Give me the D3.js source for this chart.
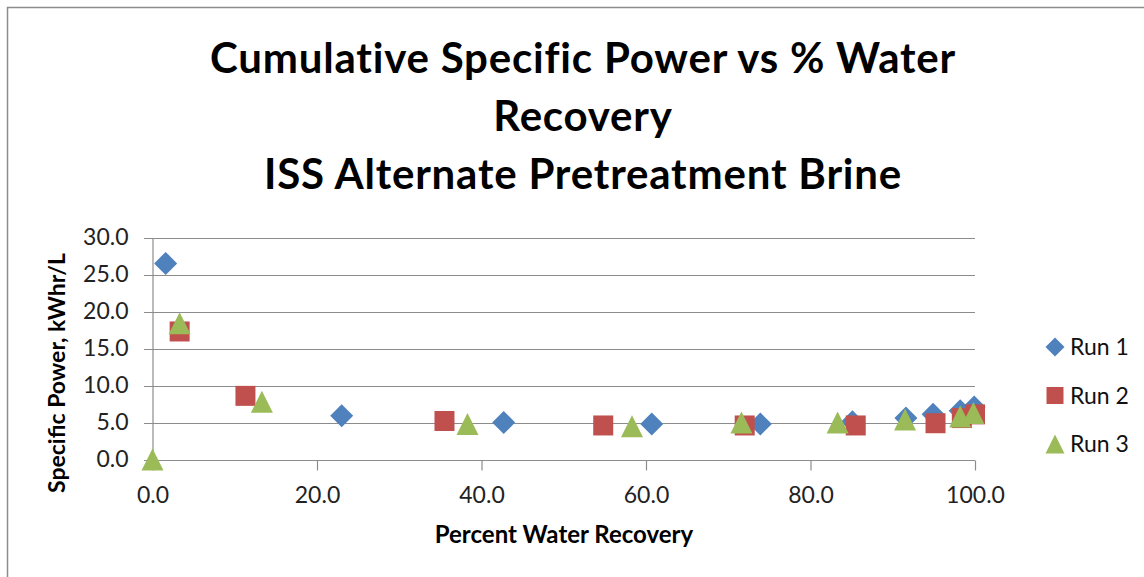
<!DOCTYPE html>
<html>
<head>
<meta charset="utf-8">
<script src="https://cdn.jsdelivr.net/npm/d3@7"></script>
<style>
  html, body { margin: 0; padding: 0; background: #fff; }
  svg { display: block; font-family: Lato, "Open Sans", sans-serif; }
</style>
</head>
<body>
<svg id="chart" width="1144" height="577"></svg>
<script>
// series values
const run1X = [1.6, 23.0, 42.7, 60.7, 73.9, 85.1, 91.6, 94.9, 98.2, 99.9];
const run1Y = [26.5, 5.9, 5.0, 4.8, 4.8, 5.1, 5.6, 6.1, 6.6, 7.1];
const run2X = [3.3, 11.3, 35.5, 54.8, 72.0, 85.5, 95.2, 98.4, 100.0];
const run2Y = [17.3, 8.6, 5.2, 4.6, 4.6, 4.6, 4.9, 5.6, 6.1];
const run3X = [0.0, 3.3, 13.3, 38.3, 58.3, 71.6, 83.3, 91.5, 98.2, 99.8];
const run3Y = [0.0, 18.4, 7.8, 4.8, 4.5, 5.0, 5.0, 5.4, 5.8, 6.3];

const seriesNames = ['Run 1', 'Run 2', 'Run 3'];
const xTicks = [0, 20, 40, 60, 80, 100];
const yTicks = [0, 5, 10, 15, 20, 25, 30];
const titleLines = ['Cumulative Specific Power vs % Water', 'Recovery', 'ISS Alternate Pretreatment Brine'];

const colors = ['#4F81BD', '#C0504D', '#9BBB59'];

// excel-like markers: diamond (square on its point), square, triangle
const diamond = {
  draw(ctx, size) {
    const r = Math.sqrt(size) / 2;
    ctx.moveTo(0, -r); ctx.lineTo(r, 0); ctx.lineTo(0, r); ctx.lineTo(-r, 0); ctx.closePath();
  }
};
const triangle = {
  draw(ctx, size) {
    const r = Math.sqrt(size) / 2;
    ctx.moveTo(0, -r); ctx.lineTo(r, r); ctx.lineTo(-r, r); ctx.closePath();
  }
};
const shapes = [
  d3.symbol(diamond, 23 * 23),
  d3.symbol(d3.symbolSquare, 20 * 20),
  d3.symbol(triangle, 22 * 22)
];

const series = [
  run1X.map((x, i) => ({ x, y: run1Y[i] })),
  run2X.map((x, i) => ({ x, y: run2Y[i] })),
  run3X.map((x, i) => ({ x, y: run3Y[i] }))
];

const svg = d3.select('#chart');

// outer chart border
svg.append('rect')
  .attr('x', 7.5).attr('y', 7.5)
  .attr('width', 1200).attr('height', 620)
  .attr('fill', '#fff')
  .attr('stroke', '#8c8c8c').attr('stroke-width', 1.5);

const x = d3.scaleLinear().domain([0, 100]).range([152.5, 975]);
const y = d3.scaleLinear().domain([0, 30]).range([459.5, 237.5]);

// title
svg.append('g')
  .selectAll('text')
  .data(titleLines)
  .join('text')
  .attr('x', 583)
  .attr('y', (d, i) => 73 + i * 58)
  .attr('text-anchor', 'middle')
  .attr('font-size', 42)
  .attr('font-weight', 'bold')
  .attr('letter-spacing', 0.8)
  .attr('fill', '#000')
  .text(d => d);

// horizontal gridlines
svg.append('g')
  .selectAll('line')
  .data(yTicks)
  .join('line')
  .attr('x1', 144).attr('x2', 975)
  .attr('y1', d => Math.round(y(d)) + 0.5)
  .attr('y2', d => Math.round(y(d)) + 0.5)
  .attr('stroke', '#8c8c8c').attr('stroke-width', 1.2);

// y axis
const yAxis = svg.append('g')
  .attr('transform', `translate(${x(0)},0)`)
  .call(d3.axisLeft(y).tickValues(yTicks).tickFormat(d3.format('.1f')).tickSize(0).tickPadding(24));
yAxis.select('.domain').attr('stroke', '#8c8c8c').attr('stroke-width', 1.2);
yAxis.selectAll('text')
  .attr('font-size', 23).attr('fill', '#222').attr('font-family', 'Lato, sans-serif');

// x axis
const xAxis = svg.append('g')
  .attr('transform', `translate(0,${Math.round(y(0)) + 0.5})`)
  .call(d3.axisBottom(x).tickValues(xTicks).tickFormat(d3.format('.1f')).tickSize(10).tickPadding(16));
xAxis.select('.domain').remove();
xAxis.selectAll('line').attr('stroke', '#8c8c8c').attr('stroke-width', 1.2);
xAxis.selectAll('text')
  .attr('font-size', 23).attr('fill', '#222').attr('font-family', 'Lato, sans-serif');

// axis titles
svg.append('text')
  .attr('x', 564).attr('y', 543)
  .attr('text-anchor', 'middle')
  .attr('font-size', 24).attr('font-weight', 'bold')
  .text('Percent Water Recovery');

svg.append('text')
  .attr('transform', 'translate(65,373) rotate(-90)')
  .attr('text-anchor', 'middle')
  .attr('font-size', 23).attr('font-weight', 'bold')
  .text('Specific Power, kWhr/L');

// points
series.forEach((pts, k) => {
  svg.append('g')
    .selectAll('path')
    .data(pts)
    .join('path')
    .attr('transform', d => `translate(${x(d.x)},${y(d.y)})`)
    .attr('d', shapes[k])
    .attr('fill', colors[k]);
});

// legend
const legend = svg.append('g')
  .selectAll('g')
  .data(seriesNames)
  .join('g')
  .attr('transform', (d, i) => `translate(1055,${347 + i * 48.5})`);
legend.append('path')
  .attr('d', (d, i) => d3.symbol(i === 0 ? diamond : i === 1 ? d3.symbolSquare : triangle, i === 1 ? 17 * 17 : 19 * 19)())
  .attr('fill', (d, i) => colors[i]);
legend.append('text')
  .attr('x', 15).attr('y', 8)
  .attr('font-size', 23).attr('fill', '#111')
  .text(d => d);
</script>
</body>
</html>
